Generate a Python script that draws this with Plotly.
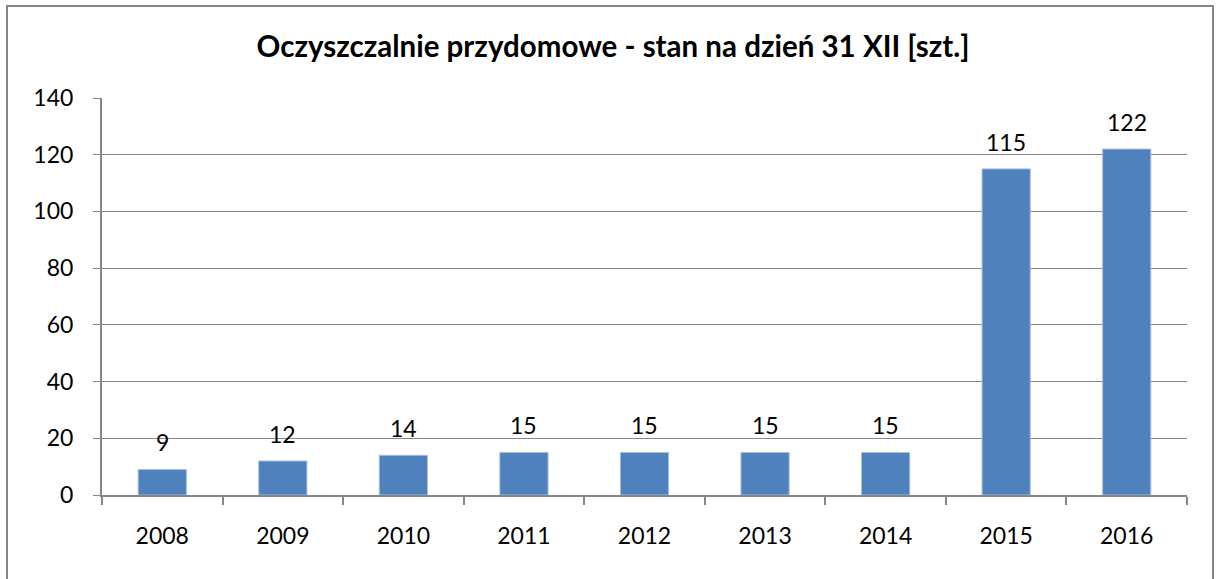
import plotly.graph_objects as go

years = ["2008", "2009", "2010", "2011", "2012", "2013", "2014", "2015", "2016"]
values = [9, 12, 14, 15, 15, 15, 15, 115, 122]
title_text = "Oczyszczalnie przydomowe - stan na dzień 31 XII [szt.]"

FONT = "Lato, Open Sans, sans-serif"

fig = go.Figure(go.Bar(
    x=years, y=values,
    marker=dict(color="#4F81BD", line=dict(color="#A7C0DE", width=1)),
    cliponaxis=False,
))

for i, v in enumerate(values):
    fig.add_annotation(x=i, y=v, text=str(v), showarrow=False, yanchor="bottom",
                       yshift=11, font=dict(size=23, family=FONT, color="#000000"))

L, R, T, B = 102, 29, 98, 84
W, H = 1216, 579
pw, ph = W - L - R, H - T - B

def px(x):
    return (x - L) / pw

def py(y):
    return (H - B - y) / ph

fig.update_layout(
    width=W, height=H,
    margin=dict(l=L, r=R, t=T, b=B, autoexpand=False),
    paper_bgcolor="white", plot_bgcolor="white",
    bargap=0.6,
    showlegend=False,
    title=dict(text="<b>" + title_text + "</b>", x=613 / W, xref="container", xanchor="center",
               y=1 - 47 / H, yanchor="middle",
               font=dict(size=29.5, family=FONT, color="#000000")),
    font=dict(family=FONT, size=23, color="#000000"),
    shapes=[dict(type="rect", xref="paper", yref="paper",
                 x0=px(7), x1=px(1213), y0=py(590), y1=py(6),
                 line=dict(color="#868686", width=2), fillcolor="rgba(0,0,0,0)", layer="below")],
)

fig.update_yaxes(
    range=[0, 140], dtick=20, showgrid=True, gridcolor="#868686", gridwidth=1,
    showline=True, linecolor="#868686", linewidth=2,
    ticks="outside", ticklen=7, tickcolor="#868686", tickwidth=1,
    tickfont=dict(size=23, family=FONT), ticklabelstandoff=15, zeroline=False,
)
fig.update_xaxes(
    type="category", range=[-0.5, len(years) - 0.5],
    showline=True, linecolor="#868686", linewidth=2,
    ticks="outside", ticklen=8, tickcolor="#868686", tickwidth=2, tickson="boundaries",
    tickfont=dict(size=23, family=FONT), ticklabelstandoff=19, showgrid=False,
)

fig.write_html("out.html", config={"displayModeBar": False},
               post_script="document.body.style.margin='0';document.body.style.overflow='hidden';")
